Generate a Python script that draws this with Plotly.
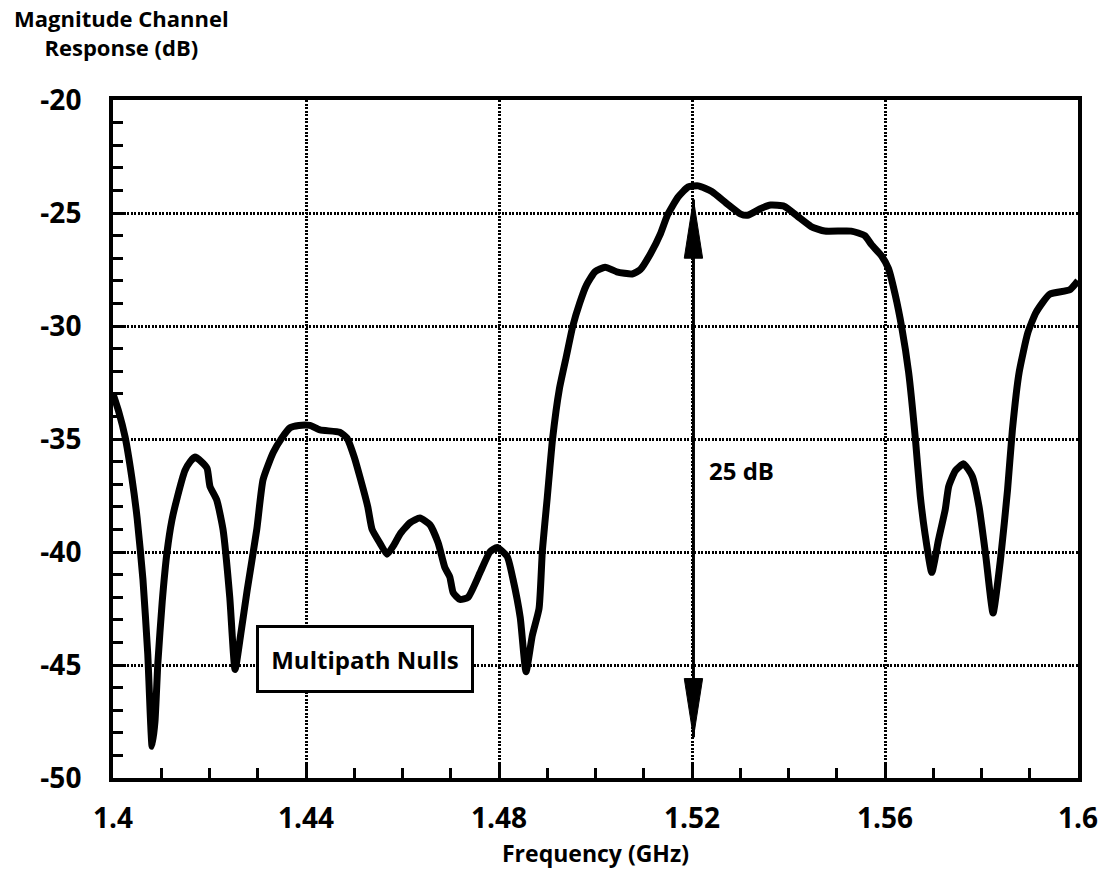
import plotly.graph_objects as go

# Measured channel magnitude response
freq_ghz = [
    1.4000, 1.4012, 1.4025, 1.4039, 1.4050, 1.4062, 1.4072, 1.4081, 1.4087, 1.4093,
    1.4102, 1.4112, 1.4122, 1.4133, 1.4149, 1.4160, 1.4170, 1.4183, 1.4195, 1.4201,
    1.4215, 1.4228, 1.4242, 1.4253, 1.4265, 1.4278, 1.4298, 1.4311, 1.4332, 1.4350,
    1.4367, 1.4385, 1.4408, 1.4429, 1.4470, 1.4485, 1.4500, 1.4512, 1.4528, 1.4537,
    1.4553, 1.4568, 1.4582, 1.4595, 1.4616, 1.4636, 1.4657, 1.4674, 1.4688, 1.4698,
    1.4705, 1.4719, 1.4736, 1.4761, 1.4781, 1.4796, 1.4817, 1.4829, 1.4844, 1.4856,
    1.4869, 1.4883, 1.4890, 1.4900, 1.4911, 1.4925, 1.4939, 1.4953, 1.4967, 1.4981,
    1.4999, 1.5020, 1.5044, 1.5076, 1.5093, 1.5114, 1.5135, 1.5149, 1.5171, 1.5192,
    1.5213, 1.5241, 1.5273, 1.5301, 1.5315, 1.5343, 1.5363, 1.5391, 1.5419, 1.5447,
    1.5475, 1.5530, 1.5558, 1.5572, 1.5593, 1.5607, 1.5621, 1.5635, 1.5649, 1.5663,
    1.5673, 1.5683, 1.5697, 1.5711, 1.5725, 1.5732, 1.5746, 1.5763, 1.5781, 1.5795,
    1.5809, 1.5824, 1.5840, 1.5854, 1.5864, 1.5878, 1.5896, 1.5913, 1.5941, 1.5983,
    1.6000,
]
magnitude_db = [
    -33.0, -33.8, -34.9, -36.7, -38.5, -41.2, -44.5, -48.6, -47.5, -44.9,
    -42.2, -40.0, -38.6, -37.6, -36.4, -36.0, -35.8, -36.0, -36.3, -37.1,
    -37.7, -39.0, -42.0, -45.2, -43.6, -41.7, -39.0, -36.8, -35.6, -34.95,
    -34.5, -34.4, -34.4, -34.6, -34.7, -34.96, -35.8, -36.7, -38.0, -39.0,
    -39.6, -40.1, -39.7, -39.2, -38.7, -38.5, -38.8, -39.6, -40.7, -41.1,
    -41.8, -42.1, -42.0, -40.9, -40.0, -39.8, -40.2, -41.2, -42.9, -45.3,
    -43.7, -42.5, -39.9, -37.6, -35.0, -32.8, -31.4, -30.0, -29.0, -28.2,
    -27.6, -27.4, -27.6, -27.7, -27.5, -26.8, -25.9, -25.1, -24.3, -23.85,
    -23.8, -24.05, -24.6, -25.05, -25.1, -24.8, -24.65, -24.7, -25.15, -25.6,
    -25.8, -25.8, -26.0, -26.4, -26.9, -27.45, -28.6, -30.1, -32.05, -35.0,
    -37.5, -39.2, -40.9, -39.45, -38.1, -37.1, -36.4, -36.1, -36.65, -38.0,
    -40.2, -42.7, -40.2, -37.25, -34.6, -32.05, -30.3, -29.4, -28.6, -28.4,
    -28.0,
]

x_ticks = [1.4, 1.44, 1.48, 1.52, 1.56, 1.6]
x_tick_text = ["1.4", "1.44", "1.48", "1.52", "1.56", "1.6"]
y_ticks = [-50, -45, -40, -35, -30, -25, -20]
y_tick_text = ["-50", "-45", "-40", "-35", "-30", "-25", "-20"]

# Dynamic-range marker: from peak level down to deepest null region
span_x = 1.5203
span_top_db = -24.4
span_bottom_db = -48.2
span_label = "25 dB"

FONT = "Open Sans"
ink = "black"

fig = go.Figure()
fig.add_trace(go.Scatter(
    x=freq_ghz, y=magnitude_db, mode="lines",
    line=dict(color=ink, width=7, shape="spline", smoothing=0.5),
    hoverinfo="skip", showlegend=False,
))

# double-headed arrow: shaft plus two elongated filled heads
head_len = 2.6      # dB
head_half = 0.0019  # GHz
shapes = [
    dict(type="line", xref="x", yref="y", x0=span_x, x1=span_x,
         y0=span_top_db, y1=span_bottom_db, line=dict(color=ink, width=3)),
    dict(type="path", xref="x", yref="y",
         path=f"M {span_x} {span_top_db} L {span_x - head_half} {span_top_db - head_len} "
              f"L {span_x + head_half} {span_top_db - head_len} Z",
         fillcolor=ink, line=dict(color=ink, width=1)),
    dict(type="path", xref="x", yref="y",
         path=f"M {span_x} {span_bottom_db} L {span_x - head_half} {span_bottom_db + head_len} "
              f"L {span_x + head_half} {span_bottom_db + head_len} Z",
         fillcolor=ink, line=dict(color=ink, width=1)),
]

annotations = [
    dict(x=1.5231, y=-36.4, xref="x", yref="y", text=f"<b>{span_label}</b>", showarrow=False,
         xanchor="left", yanchor="middle",
         font=dict(family=FONT, size=24, color=ink)),
    dict(x=1.4522, y=-44.75, xref="x", yref="y", text="<b>Multipath Nulls</b>",
         showarrow=False, xanchor="center", yanchor="middle", bgcolor="white",
         bordercolor=ink, borderwidth=3, borderpad=6, width=200, height=50,
         font=dict(family=FONT, size=24, color=ink)),
    dict(x=0.0093, y=1.10, xref="paper", yref="paper",
         text="<b>Magnitude Channel<br>Response (dB)</b>", showarrow=False,
         xanchor="center", yanchor="middle", align="center",
         font=dict(family=FONT, size=22, color=ink)),
]

fig.update_layout(
    width=1106, height=871,
    margin=dict(l=113, r=28, t=100, b=93),
    paper_bgcolor="white", plot_bgcolor="white",
    shapes=shapes, annotations=annotations,
    showlegend=False,
)

grid_style = dict(showgrid=True, gridcolor=ink, gridwidth=2.5, griddash="2px,1.5px")

fig.update_xaxes(
    range=[1.4, 1.6], tickvals=x_ticks, ticktext=[f"<b>{t}</b>" for t in x_tick_text],
    showline=True, linewidth=4, linecolor=ink, mirror=True,
    ticks="inside", ticklen=14, tickwidth=3, tickcolor=ink,
    zeroline=False, ticklabelstandoff=12, automargin=False,
    tickfont=dict(family=FONT, size=28, color=ink),
    minor=dict(dtick=0.01, tick0=1.4, ticks="inside", ticklen=10, tickwidth=3,
               tickcolor=ink, showgrid=False),
    title=dict(text="<b>Frequency (GHz)</b>", standoff=12,
               font=dict(family=FONT, size=23, color=ink)),
    **grid_style,
)
fig.update_yaxes(
    range=[-50, -20], tickvals=y_ticks, ticktext=[f"<b>{t}</b>" for t in y_tick_text],
    showline=True, linewidth=4, linecolor=ink, mirror=True,
    ticks="inside", ticklen=12, tickwidth=3, tickcolor=ink,
    zeroline=False, ticklabelstandoff=22, automargin=False,
    tickfont=dict(family=FONT, size=28, color=ink),
    minor=dict(dtick=1, tick0=-50, ticks="inside", ticklen=10, tickwidth=3,
               tickcolor=ink, showgrid=False),
    **grid_style,
)

fig.write_html("out.html")
